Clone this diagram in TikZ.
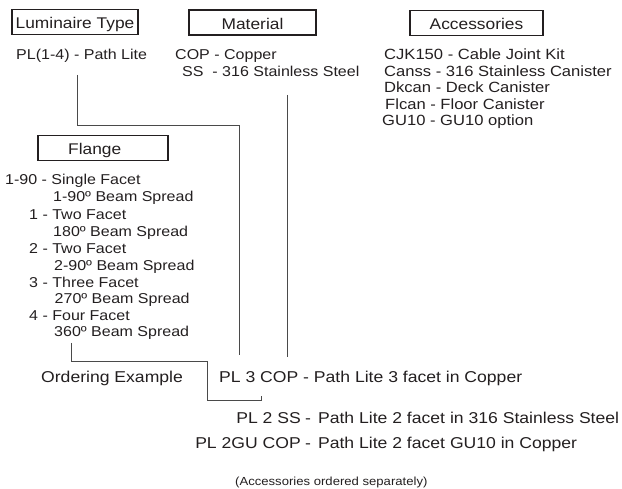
\documentclass[tikz,border=0pt]{standalone}
\usepackage{fontspec}
\setmainfont{Liberation Sans}[FakeStretch=1.12]
\usepackage{xcolor}
\usepackage{tikz}
\usetikzlibrary{positioning}
\definecolor{keyblack}{HTML}{231F20}
\definecolor{keygray}{HTML}{4A4A4A}
\tikzset{
  headbox/.style={rectangle,draw=keyblack,line width=1.2pt,minimum height=25pt,
    inner sep=0pt,text height=14pt,text depth=0pt},
  entry/.style={anchor=base west,inner sep=0pt},
  listentry/.style={entry,font=\fontsize{14.3}{17}\selectfont},
  accentry/.style={entry,font=\fontsize{14.8}{17}\selectfont},
  exentry/.style={entry,font=\fontsize{15.7}{18}\selectfont},
  code/.style={anchor=base east,inner sep=0pt,font=\fontsize{15.7}{18}\selectfont},
  link/.style={draw=keygray,line width=1pt}
}
\begin{document}
\begin{tikzpicture}[x=1pt,y=-1pt,font=\fontsize{15.5}{18}\selectfont,text=keyblack]
  \useasboundingbox (0,0) rectangle (622,489);
  \node[headbox,minimum width=126pt] (typebox) at (75,22) {Luminaire Type};
  \node[headbox,minimum width=127pt] (matbox) at (252.5,22.5) {Material};
  \node[headbox,minimum width=133pt] (accbox) at (476.5,23) {Accessories};
  \node[headbox,minimum width=130pt] (flangebox) at (103,148) {};
  \node[entry] (flangelabel) at (68,154.5) {Flange};

  \node[listentry] (typelist) at (16,60) {PL(1-4) - Path Lite};
  \node[listentry] (matcop) at (175,60) {COP - Copper};
  \node[listentry] (matss) at (182,76.5) {SS\ \ - 316 Stainless Steel};

  \node[accentry] (acccjk) at (384,60) {CJK150 - Cable Joint Kit};
  \node[accentry] (acccanss) at (384,76.5) {Canss - 316 Stainless Canister};
  \node[accentry] (accdk) at (384,93) {Dkcan - Deck Canister};
  \node[accentry] (accfl) at (385,109.5) {Flcan - Floor Canister};
  \node[accentry] (accgu) at (382,126) {GU10 - GU10 option};

  \node[listentry] (fl90) at (5,184.5) {1-90 - Single Facet};
  \node[listentry] (fl90b) at (53,201.5) {1-90º Beam Spread};
  \node[listentry] (fl1) at (29,220) {1 - Two Facet};
  \node[listentry] (fl1b) at (53,237) {180º Beam Spread};
  \node[listentry] (fl2) at (29,254) {2 - Two Facet};
  \node[listentry] (fl2b) at (54,270.5) {2-90º Beam Spread};
  \node[listentry] (fl3) at (29,287.5) {3 - Three Facet};
  \node[listentry] (fl3b) at (54.5,304) {270º Beam Spread};
  \node[listentry] (fl4) at (29,320.5) {4 - Four Facet};
  \node[listentry] (fl4b) at (54,337) {360º Beam Spread};

  \node[exentry] (ordering) at (41,383) {Ordering Example};
  \node[exentry] (example1) at (219,383) {PL 3 COP - Path Lite 3 facet in Copper};
  \node[code] (example2) at (301,424) {PL 2 SS};
  \node[exentry] (example2desc) at (305,424) {-\hspace{7pt}Path Lite 2 facet in 316 Stainless Steel};
  \node[code] (example3) at (301,449) {PL 2GU COP};
  \node[exentry] (example3desc) at (305,449) {-\hspace{7pt}Path Lite 2 facet GU10 in Copper};
  \node[entry,font=\fontsize{11.7}{14}\selectfont] (accnote) at (235,485) {(Accessories ordered separately)};

  \coordinate (typetop) at (77,75);
  \coordinate (typebend) at (77,126);
  \coordinate (typeend) at (239,355);
  \coordinate (mattop) at (287,95);
  \coordinate (matend) at (287,357);
  \coordinate (flangetop) at (71,343);
  \coordinate (flangebend) at (71,362);
  \coordinate (flangelow) at (207,401);
  \coordinate (flangetick) at (261,396);
  \draw[link] (typetop) -- (typebend) -| (typeend);
  \draw[link] (mattop) -- (matend);
  \draw[link] (flangetop) -- (flangebend) -| (flangelow) -| (flangetick);
\end{tikzpicture}
\end{document}
